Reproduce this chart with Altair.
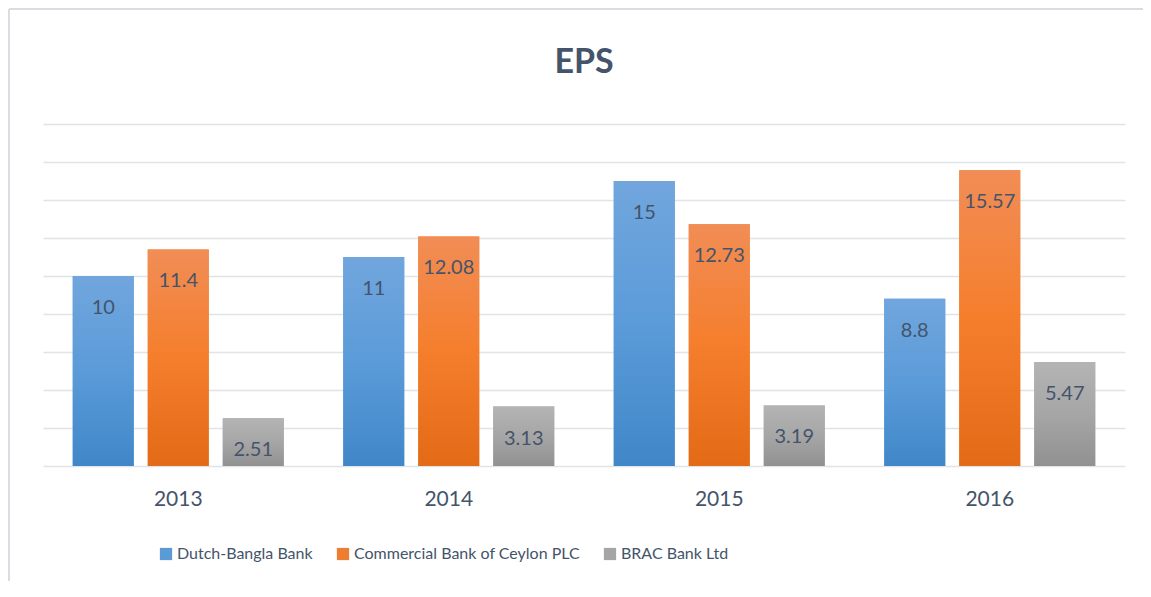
import altair as alt
import pandas as pd

years = ["2013", "2014", "2015", "2016"]
series = ["Dutch-Bangla Bank", "Commercial Bank of Ceylon PLC", "BRAC Bank Ltd"]
dutch = [10, 11, 15, 8.8]
ceylon = [11.4, 12.08, 12.73, 15.57]
brac = [2.51, 3.13, 3.19, 5.47]
solid_colors = ["#5b9bd5", "#ed7d31", "#a5a5a5"]

rows = []
for i, yr in enumerate(years):
    for s, vals in zip(series, [dutch, ceylon, brac]):
        rows.append({"year": yr, "series": s, "value": vals[i], "label": str(vals[i])})
df = pd.DataFrame(rows)

TXT = "#44546a"


def grad(top, mid, bottom):
    return {"gradient": "linear", "x1": 0, "y1": 0, "x2": 0, "y2": 1,
            "stops": [{"offset": 0, "color": top}, {"offset": 0.5, "color": mid},
                      {"offset": 1, "color": bottom}]}


g_blue = grad("#71a6dd", "#5b9bd9", "#4087c8")
g_orange = grad("#f18d56", "#f57e2c", "#e36a17")
g_gray = grad("#b4b4b4", "#a6a6a6", "#919191")

x_enc = alt.X("year:N", sort=years,
              scale=alt.Scale(paddingInner=0.22, paddingOuter=0.11),
              axis=alt.Axis(title=None, labelAngle=0, ticks=False, domain=False, grid=False,
                            labelFont="Lato", labelFontSize=21, labelColor=TXT, labelPadding=22))
xoff = alt.XOffset("series:N", sort=series,
                   scale=alt.Scale(domain=series, paddingInner=0.187, paddingOuter=0))
y_enc = alt.Y("value:Q", scale=alt.Scale(domain=[0, 18], nice=False),
              axis=alt.Axis(title=None, labels=False, ticks=False, domain=False,
                            values=list(range(0, 19, 2)), grid=True,
                            gridColor="#e0e4e9", gridWidth=1.6))

base = alt.Chart(df)

legend_bars = base.mark_bar().encode(
    x=x_enc, xOffset=xoff, y=y_enc,
    color=alt.Color("series:N", sort=series,
                    scale=alt.Scale(domain=series, range=solid_colors),
                    legend=alt.Legend(title=None, orient="none", direction="horizontal",
                                      columns=3, legendX=115, legendY=422,
                                      symbolType="square", symbolSize=150,
                                      symbolStrokeWidth=0, labelFont="Lato",
                                      labelFontSize=16, labelColor=TXT, labelOffset=3,
                                      columnPadding=22, labelLimit=400)),
)

grad_bars = base.mark_bar().encode(
    x=x_enc, xOffset=xoff, y=y_enc,
    fill=alt.when(alt.datum.series == series[0]).then(alt.value(g_blue))
    .when(alt.datum.series == series[1]).then(alt.value(g_orange))
    .otherwise(alt.value(g_gray)),
)

labels = base.mark_text(baseline="alphabetic", dy=38, font="Lato", fontSize=20, color=TXT).encode(
    x=x_enc, xOffset=xoff, y=y_enc, text=alt.Text("label:N"),
)

border_data = alt.Data(values=[{"k": 1}])
top_line = alt.Chart(border_data).mark_rule(color="#d9dde2", strokeWidth=2).encode(
    x=alt.value(-34), x2=alt.value(1100), y=alt.value(-115))
left_line = alt.Chart(border_data).mark_rule(color="#d9dde2", strokeWidth=2).encode(
    x=alt.value(-34), y=alt.value(-115), y2=alt.value(457))

chart = alt.layer(legend_bars, grad_bars, labels, top_line, left_line).properties(
    width=1082, height=342,
    title=alt.TitleParams("EPS", font="Lato", fontSize=34, fontWeight="bold", color=TXT,
                          anchor="middle", offset=-72),
    autosize=alt.AutoSizeParams(type="none"),
    padding={"left": 35, "top": 116, "right": 18, "bottom": 115},
).configure(background="white").configure_view(stroke=None)

chart.save("out.html", embed_options={"renderer": "svg", "actions": False})
